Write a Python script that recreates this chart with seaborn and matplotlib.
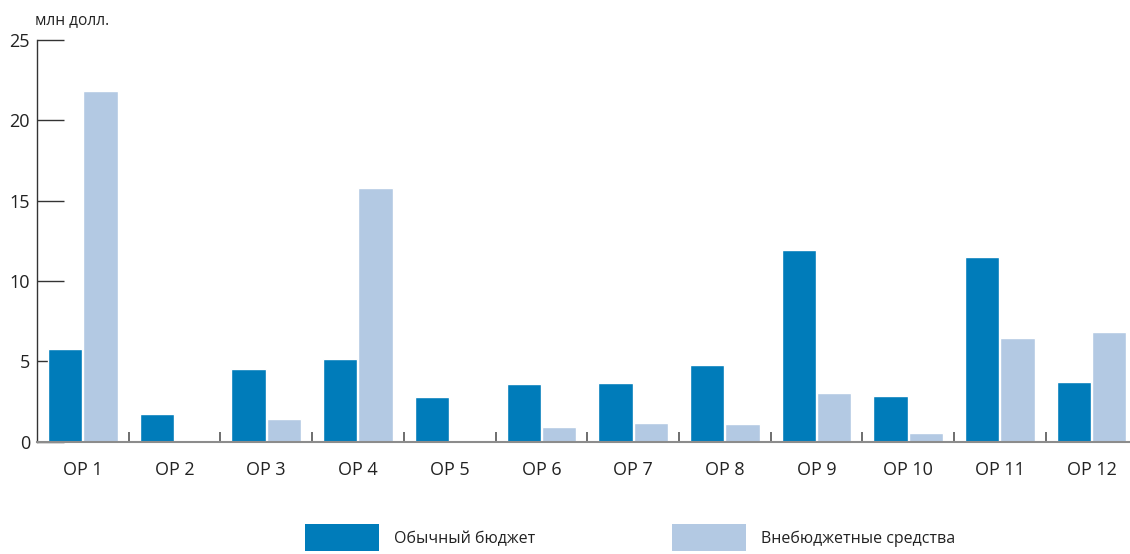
import pandas as pd
import matplotlib.pyplot as plt
import seaborn as sns
from matplotlib.patches import Patch
from matplotlib.ticker import FixedLocator

# Data (млн долл.)
categories = ["OP 1", "OP 2", "OP 3", "OP 4", "OP 5", "OP 6",
              "OP 7", "OP 8", "OP 9", "OP 10", "OP 11", "OP 12"]
regular_budget = [5.8, 1.7, 4.5, 5.15, 2.8, 3.6, 3.65, 4.8, 11.9, 2.85, 11.5, 3.7]
extrabudgetary = [21.8, 0.05, 1.4, 15.8, 0.05, 0.9, 1.15, 1.1, 3.0, 0.55, 6.45, 6.85]
series_names = ["Обычный бюджет", "Внебюджетные средства"]
y_ticks = [0, 5, 10, 15, 20, 25]

dark = "#007cba"
light = "#b3c9e3"


def build_frame():
    rows = []
    for cat, a, b in zip(categories, regular_budget, extrabudgetary):
        rows.append({"cat": cat, "series": series_names[0], "value": a})
        rows.append({"cat": cat, "series": series_names[1], "value": b})
    return pd.DataFrame(rows)


def plot_chart(df):
    sns.set_style("white")
    plt.rcParams["font.family"] = ["Open Sans", "DejaVu Sans"]
    plt.rcParams["xtick.direction"] = "in"
    plt.rcParams["ytick.direction"] = "in"

    fig = plt.figure(figsize=(11.3, 5.54), dpi=100)
    ax = fig.add_axes([37 / 1130, 112.3 / 554, 1093 / 1130, 401.7 / 554])

    sns.barplot(data=df, x="cat", y="value", hue="series", order=categories,
                hue_order=series_names, palette=[dark, light], width=0.77,
                gap=0.03, errorbar=None, legend=False, ax=ax, saturation=1)

    ax.set_xlim(-0.5, -0.5 + 1093 / 91.7)
    ax.set_ylim(0, 25)
    ax.set_yticks(y_ticks)
    ax.set_xlabel("")
    ax.set_ylabel("")

    for side in ["top", "right"]:
        ax.spines[side].set_visible(False)
    ax.spines["left"].set_color("#333333")
    ax.spines["left"].set_linewidth(1.0)
    ax.spines["bottom"].set_color("#8c8c8c")
    ax.spines["bottom"].set_linewidth(1.5)

    ax.tick_params(axis="y", left=True, direction="in", length=19.5, width=1.0,
                   color="#333333", labelsize=13, labelcolor="#222222", pad=5)
    # small upward ticks between the category groups
    ax.xaxis.set_minor_locator(FixedLocator([i + 0.5 for i in range(len(categories) - 1)]))
    ax.tick_params(axis="x", which="major", bottom=True, length=0, labelsize=13,
                   labelcolor="#222222", pad=14)
    ax.tick_params(axis="x", which="minor", bottom=True, direction="in", length=7,
                   width=1.2, color="#555555")

    fig.text(35 / 1130, 1 - 20 / 554, "млн долл.", fontsize=11.2,
             color="#222222", ha="left", va="center")

    handles = [Patch(facecolor=dark, edgecolor="none"),
               Patch(facecolor=light, edgecolor="none")]
    fs = 11.55
    fpx = fs * 100 / 72
    fig.legend(handles, series_names, loc="upper left",
               bbox_to_anchor=(305 / 1130, 1 - 524 / 554), ncol=2,
               frameon=False, fontsize=fs, borderpad=0, borderaxespad=0,
               handlelength=74 / fpx, handleheight=36 / fpx,
               handletextpad=15 / fpx, columnspacing=137 / fpx,
               labelcolor="#222222")

    fig.savefig("out.png", dpi=100)


if __name__ == "__main__":
    df = build_frame()
    plot_chart(df)
